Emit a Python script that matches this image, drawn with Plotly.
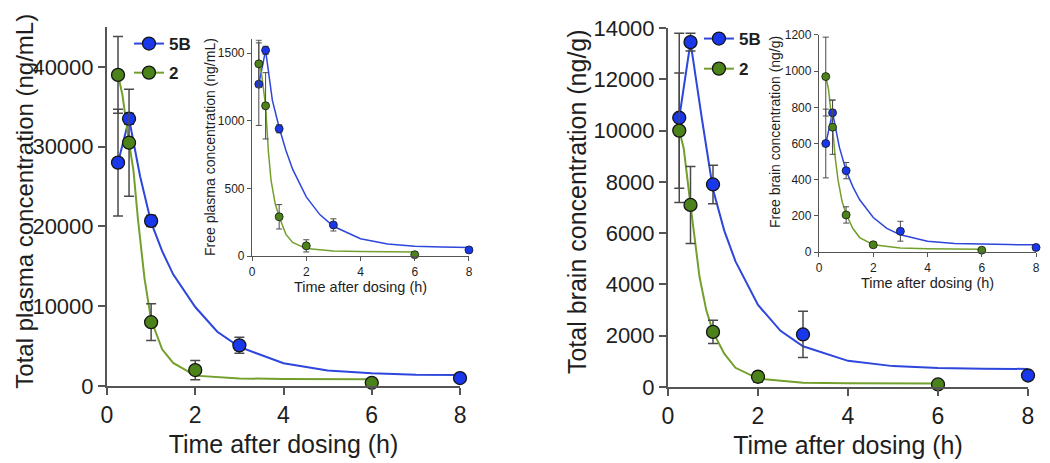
import plotly.graph_objects as go

# ---------------- data ----------------
t_5b = [0.25, 0.5, 1, 3, 8]
t_2 = [0.25, 0.5, 1, 2, 6]

# Total plasma (ng/mL)
plasma_5b = [28000, 33500, 20700, 5100, 1000]
plasma_5b_err = [6700, 700, 700, 1000, 300]
plasma_2 = [39000, 30500, 8000, 2000, 400]
plasma_2_err = [4800, 6700, 2300, 1200, 200]

# Free plasma (ng/mL)
fplasma_5b = [1270, 1520, 940, 230, 45]
fplasma_5b_err = [305, 30, 30, 45, 10]
fplasma_2 = [1420, 1110, 290, 75, 10]
fplasma_2_err = [175, 245, 90, 45, 5]

# Total brain (ng/g)
brain_5b = [10500, 13450, 7900, 2050, 450]
brain_5b_err = [3300, 350, 750, 900, 100]
brain_2 = [10000, 7100, 2150, 400, 100]
brain_2_err = [2250, 1500, 450, 200, 50]

# Free brain (ng/g)
fbrain_5b = [600, 770, 450, 115, 25]
fbrain_5b_err = [190, 70, 45, 55, 8]
fbrain_2 = [970, 690, 205, 40, 10]
fbrain_2_err = [218, 150, 45, 15, 4]

# fitted curves
fit_t_5b = [0.25, 0.5, 0.75, 1, 1.25, 1.5, 2, 2.5, 3, 4, 5, 6, 7, 8]
fit_t_2 = [0.25, 0.35, 0.5, 0.6, 0.7, 0.85, 1, 1.25, 1.5, 2, 3, 4, 6]

plasma_5b_fit = [28000, 33500, 26300, 20500, 16900, 14000, 9900, 6800, 4900, 2850, 1950, 1600, 1420, 1370]
plasma_2_fit = [39000, 36500, 30500, 27000, 21000, 13500, 8300, 4600, 2900, 1300, 950, 880, 850]
fplasma_5b_fit = [1270, 1520, 1150, 950, 780, 640, 437, 306, 220, 128, 89, 72, 66, 63]
fplasma_2_fit = [1420, 1350, 1110, 780, 560, 390, 290, 160, 100, 55, 38, 33, 30]
brain_5b_fit = [10500, 13450, 10500, 7700, 6100, 4900, 3200, 2190, 1590, 1020, 815, 740, 715, 705]
brain_2_fit = [10000, 9300, 7100, 5600, 4300, 3000, 2150, 1300, 750, 330, 170, 150, 140]
fbrain_5b_fit = [600, 770, 580, 450, 360, 289, 191, 131, 95, 60, 47, 43, 41, 40]
fbrain_2_fit = [970, 900, 690, 520, 400, 280, 210, 130, 80, 40, 22, 18, 15]

series_names = ["5B", "2"]
x_ticks = [0, 2, 4, 6, 8]
y_titles = ["Total plasma concentration (ng/mL)", "Free plasma concentration (ng/mL)",
            "Total brain concentration (ng/g)", "Free brain concentration (ng/g)"]
x_title = "Time after dosing (h)"

# ---------------- style ----------------
FONT = "Liberation Sans, Arial, sans-serif"
BLUE_M = "rgb(25,55,235)"
GREEN_M = "rgb(75,130,25)"
BLUE_L = "rgb(45,70,220)"
GREEN_L = "rgb(115,160,45)"
EDGE = "#151515"
ERR = "#4a4a4a"
AX = "#555555"
TXT = "#1e1e1e"

fig = go.Figure()


def add_panel(xa, ya, vals_b, err_b, vals_g, err_g, fit_b, fit_g, big):
    msize = 13 if big else 8
    lw = 2 if big else 1.5
    ebw = 5 if big else 3
    eth = 1.5 if big else 1
    fig.add_trace(go.Scatter(x=fit_t_5b, y=fit_b, mode="lines", xaxis=xa, yaxis=ya,
                             line=dict(color=BLUE_L, width=lw), showlegend=False, hoverinfo="skip"))
    fig.add_trace(go.Scatter(x=fit_t_2, y=fit_g, mode="lines", xaxis=xa, yaxis=ya,
                             line=dict(color=GREEN_L, width=lw), showlegend=False, hoverinfo="skip"))
    fig.add_trace(go.Scatter(x=t_5b, y=vals_b, mode="markers", xaxis=xa, yaxis=ya, cliponaxis=False,
                             marker=dict(size=msize, color=BLUE_M, line=dict(color=EDGE, width=1.3 if big else 0.8)),
                             error_y=dict(type="data", array=err_b, color=ERR, thickness=eth, width=ebw),
                             showlegend=False))
    fig.add_trace(go.Scatter(x=t_2, y=vals_g, mode="markers", xaxis=xa, yaxis=ya, cliponaxis=False,
                             marker=dict(size=msize, color=GREEN_M, line=dict(color=EDGE, width=1.3 if big else 0.8)),
                             error_y=dict(type="data", array=err_g, color=ERR, thickness=eth, width=ebw),
                             showlegend=False))


add_panel("x", "y", plasma_5b, plasma_5b_err, plasma_2, plasma_2_err, plasma_5b_fit, plasma_2_fit, True)
add_panel("x2", "y2", fplasma_5b, fplasma_5b_err, fplasma_2, fplasma_2_err, fplasma_5b_fit, fplasma_2_fit, False)
add_panel("x3", "y3", brain_5b, brain_5b_err, brain_2, brain_2_err, brain_5b_fit, brain_2_fit, True)
add_panel("x4", "y4", fbrain_5b, fbrain_5b_err, fbrain_2, fbrain_2_err, fbrain_5b_fit, fbrain_2_fit, False)

# legend entries
for lg in ["legend", "legend2"]:
    for name, mc, lc in zip(series_names, [BLUE_M, GREEN_M], [BLUE_L, GREEN_L]):
        fig.add_trace(go.Scatter(x=[None], y=[None], mode="lines+markers", name=name, legend=lg,
                                 legendgroup=lg + name,
                                 marker=dict(size=13, color=mc, line=dict(color=EDGE, width=1.3)),
                                 line=dict(color=lc, width=2)))


def xax(domain, anchor, big, standoff):
    return dict(domain=domain, anchor=anchor, range=[0, 8], tickvals=x_ticks, automargin=False,
                showline=True, linecolor=AX, linewidth=2 if big else 1.3,
                ticks="outside", ticklen=7 if big else 4, tickwidth=2 if big else 1.3, tickcolor=AX,
                showgrid=False, zeroline=False,
                tickfont=dict(family=FONT, size=23 if big else 12, color=TXT),
                title=dict(text=x_title, font=dict(family=FONT, size=25 if big else 14.5, color=TXT),
                           standoff=standoff))


def yax(domain, anchor, rng, dtick, big):
    return dict(domain=domain, anchor=anchor, range=rng, dtick=dtick, tickformat="d", automargin=False,
                showline=True, linecolor=AX, linewidth=2 if big else 1.3,
                ticks="outside", ticklen=7 if big else 4, tickwidth=2 if big else 1.3, tickcolor=AX,
                showgrid=False, zeroline=False,
                tickfont=dict(family=FONT, size=22 if big else 12, color=TXT))


# y-axis titles placed as rotated text next to each axis
title_pos = [(0.0150, 0.5758, 24), (0.1939, 0.6945, 14), (0.5461, 0.5736, 25), (0.7361, 0.7275, 14)]
annotations = []
for text, (px, py, fs) in zip(y_titles, title_pos):
    annotations.append(dict(text=text, x=px, y=py, xref="paper", yref="paper", showarrow=False,
                            textangle=-90, xanchor="center", yanchor="middle", borderpad=0,
                            font=dict(family=FONT, size=fs, color=TXT)))

fig.update_layout(
    width=1042, height=455,
    paper_bgcolor="white", plot_bgcolor="rgba(0,0,0,0)",
    margin=dict(l=0, r=0, t=0, b=0, autoexpand=False),
    showlegend=True,
    annotations=annotations,
    xaxis=xax([0.0950, 0.4338], "y", True, 9),
    yaxis=yax([0.1692, 0.9582], "x", [0, 45000], 10000, True),
    xaxis2=xax([0.2342, 0.4424], "y2", False, 2),
    yaxis2=yax([0.4549, 0.9308], "x2", [0, 1600], 500, False),
    xaxis3=xax([0.6334, 0.9789], "y3", True, 9),
    yaxis3=yax([0.1670, 0.9560], "x3", [0, 14000], 2000, True),
    xaxis4=xax([0.7783, 0.9866], "y4", False, 2),
    yaxis4=yax([0.4637, 0.9407], "x4", [0, 1200], 200, False),
    legend=dict(x=0.1161, y=0.9604, xanchor="left", yanchor="top", bgcolor="rgba(0,0,0,0)",
                font=dict(family=FONT, size=17, color=TXT, weight="bold"), tracegroupgap=4),
    legend2=dict(x=0.6631, y=0.9714, xanchor="left", yanchor="top", bgcolor="rgba(0,0,0,0)",
                 font=dict(family=FONT, size=17, color=TXT, weight="bold"), tracegroupgap=5),
)

fig.write_html("out.html")
